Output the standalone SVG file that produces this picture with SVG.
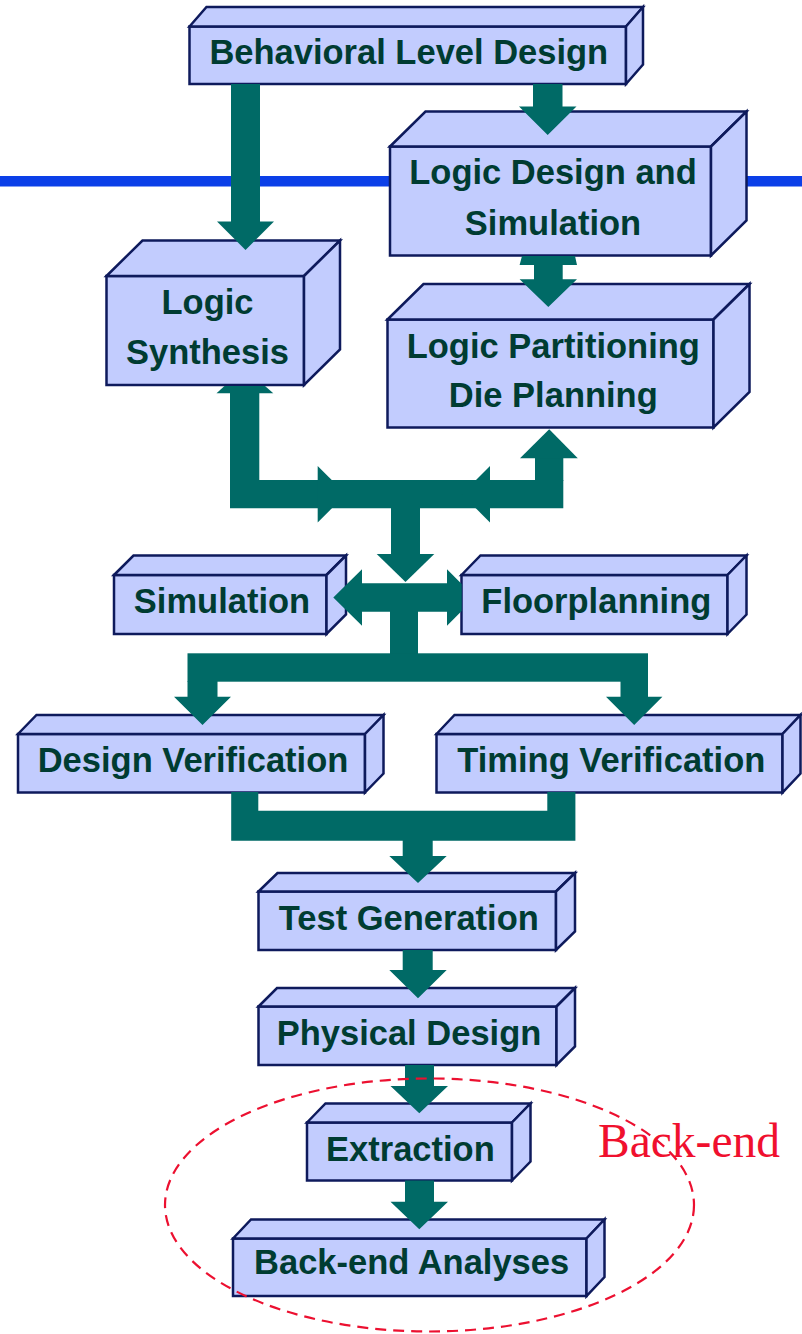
<svg xmlns="http://www.w3.org/2000/svg" width="802" height="1334" viewBox="0 0 802 1334">
  <defs>
    <style>
      .face { fill: #C2CCFE; stroke: #0E1A5C; stroke-width: 2.5; stroke-linejoin: miter; }
      .label { font-family: "Liberation Sans", Arial, sans-serif; font-weight: bold; font-size: 34.5px; fill: #003C32; text-anchor: middle; }
      .flow { fill: #006A66; stroke: none; }
      .region { fill: none; stroke: #EC1030; stroke-width: 2.2; stroke-dasharray: 11 7; }
      .region-label { font-family: "Liberation Serif", "Times New Roman", serif; font-size: 47.5px; fill: #F0102E; }
    </style>
  </defs>

  <rect width="802" height="1334" fill="#FFFFFF"/>

  <!-- front-end / back-end separator -->
  <rect id="separator" x="0" y="176" width="802" height="10.5" fill="#0B3FE8"/>

  <!-- 3D boxes: front face, top face, side face -->
  <g id="behavioral">
    <rect class="face" x="189.5" y="26.5" width="436.5" height="57.5"/>
    <polygon class="face" points="189.5,26.5 206.5,7 643,7 626,26.5"/>
    <polygon class="face" points="626,26.5 643,7 643,64.5 626,84"/>
    <text class="label" x="408.8" y="64">Behavioral Level Design</text>
  </g>

  <g id="logic-design">
    <rect class="face" x="390" y="146.5" width="321" height="109"/>
    <polygon class="face" points="390,146.5 425.5,111.5 746.5,111.5 711,146.5"/>
    <polygon class="face" points="711,146.5 746.5,111.5 746.5,220.5 711,255.5"/>
    <text class="label" x="553" y="184">Logic Design and</text>
    <text class="label" x="553" y="234.5">Simulation</text>
  </g>

  <g id="logic-synthesis">
    <rect class="face" x="106.5" y="276" width="197.5" height="109"/>
    <polygon class="face" points="106.5,276 142.5,240.5 340,240.5 304,276"/>
    <polygon class="face" points="304,276 340,240.5 340,349.5 304,385"/>
    <text class="label" x="207.5" y="314">Logic</text>
    <text class="label" x="207.5" y="364">Synthesis</text>
  </g>

  <g id="logic-partitioning">
    <rect class="face" x="387.5" y="319.5" width="326" height="108"/>
    <polygon class="face" points="387.5,319.5 423.5,284 749.5,284 713.5,319.5"/>
    <polygon class="face" points="713.5,319.5 749.5,284 749.5,392 713.5,427.5"/>
    <text class="label" x="553.3" y="358">Logic Partitioning</text>
    <text class="label" x="553.3" y="407.3">Die Planning</text>
  </g>

  <g id="simulation">
    <rect class="face" x="114" y="575" width="212.5" height="59"/>
    <polygon class="face" points="114,575 133.5,555.5 346,555.5 326.5,575"/>
    <polygon class="face" points="326.5,575 346,555.5 346,614.5 326.5,634"/>
    <text class="label" x="222" y="613.3">Simulation</text>
  </g>

  <g id="floorplanning">
    <rect class="face" x="461.5" y="575" width="266" height="59"/>
    <polygon class="face" points="461.5,575 480.5,555.5 746.5,555.5 727.5,575"/>
    <polygon class="face" points="727.5,575 746.5,555.5 746.5,614.5 727.5,634"/>
    <text class="label" x="596.3" y="613.3">Floorplanning</text>
  </g>

  <g id="design-verification">
    <rect class="face" x="18" y="734" width="347" height="58.5"/>
    <polygon class="face" points="18,734 36.5,715 383.5,715 365,734"/>
    <polygon class="face" points="365,734 383.5,715 383.5,773.5 365,792.5"/>
    <text class="label" x="193" y="771.6">Design Verification</text>
  </g>

  <g id="timing-verification">
    <rect class="face" x="436.5" y="734" width="346" height="58.5"/>
    <polygon class="face" points="436.5,734 454.5,715 800.5,715 782.5,734"/>
    <polygon class="face" points="782.5,734 800.5,715 800.5,773.5 782.5,792.5"/>
    <text class="label" x="611.3" y="771.6">Timing Verification</text>
  </g>

  <g id="test-generation">
    <rect class="face" x="258.5" y="891.5" width="297.5" height="58.5"/>
    <polygon class="face" points="258.5,891.5 277.5,873 575,873 556,891.5"/>
    <polygon class="face" points="556,891.5 575,873 575,931.5 556,950"/>
    <text class="label" x="408.8" y="930">Test Generation</text>
  </g>

  <g id="physical-design">
    <rect class="face" x="258.5" y="1006.5" width="298" height="58.5"/>
    <polygon class="face" points="258.5,1006.5 277,988 575,988 556.5,1006.5"/>
    <polygon class="face" points="556.5,1006.5 575,988 575,1046.5 556.5,1065"/>
    <text class="label" x="409" y="1044.6">Physical Design</text>
  </g>

  <g id="extraction">
    <rect class="face" x="307" y="1122.5" width="205" height="58"/>
    <polygon class="face" points="307,1122.5 325.5,1103.5 530.5,1103.5 512,1122.5"/>
    <polygon class="face" points="512,1122.5 530.5,1103.5 530.5,1161.5 512,1180.5"/>
    <text class="label" x="410.4" y="1160.6">Extraction</text>
  </g>

  <g id="backend-analyses">
    <rect class="face" x="233" y="1238.5" width="353.5" height="57.5"/>
    <polygon class="face" points="233,1238.5 251,1219.5 604.5,1219.5 586.5,1238.5"/>
    <polygon class="face" points="586.5,1238.5 604.5,1219.5 604.5,1277 586.5,1296"/>
    <text class="label" x="411.6" y="1274">Back-end Analyses</text>
  </g>

  <!-- block arrows -->
  <g id="connectors">
    <!-- behavioral -> synthesis -->
    <polygon class="flow" points="231,84 260,84 260,221.5 274,221.5 245.5,250 217,221.5 231,221.5"/>
    <!-- behavioral -> logic design -->
    <polygon class="flow" points="533,84 562.5,84 562.5,106.5 576.5,106.5 547.7,135 519,106.5 533,106.5"/>
    <!-- logic design <-> partitioning -->
    <polygon class="flow" points="522,256 575,256 577,265 562.7,265 562.7,279.3 577,279.3 548.3,307 519.6,279.3 534,279.3 534,265 519.6,265"/>

    <!-- upper junction: synthesis / partitioning / floorplan stage -->
    <polygon class="flow" points="224.5,386 265,386 273.3,393.3 216.5,393.3"/>
    <polygon class="flow" points="230,393 259.3,393 259.3,480 563.3,480 563.3,508.3 230,508.3"/>
    <rect class="flow" x="535" y="458" width="28.3" height="23"/>
    <polygon class="flow" points="520,458.3 549.2,429.3 577.8,458.3"/>
    <polygon class="flow" points="317.7,466 346,494.2 317.7,522.4"/>
    <polygon class="flow" points="490,466 461.7,494.2 490,522.4"/>
    <rect class="flow" x="391" y="508" width="29" height="46.2"/>
    <polygon class="flow" points="376.7,554 434.3,554 405.5,582"/>

    <!-- simulation <-> floorplanning -->
    <polygon class="flow" points="333.3,597.5 362,569.3 362,583.3 447,583.3 447,569.3 461.7,584 461.7,611 447,625.7 447,611.7 362,611.7 362,625.7"/>

    <!-- split to verification -->
    <rect class="flow" x="390" y="611" width="28" height="43"/>
    <rect class="flow" x="187.5" y="653.3" width="460.5" height="28.4"/>
    <polygon class="flow" points="187.5,681 217.5,681 217.5,696.7 231,696.7 202.5,725 174,696.7 187.5,696.7"/>
    <polygon class="flow" points="620.5,681 648,681 648,696.7 662.4,696.7 634.2,725 606,696.7 620.5,696.7"/>

    <!-- merge to test generation -->
    <polygon class="flow" points="231.2,792 258.3,792 258.3,810.7 547.3,810.7 547.3,792 575.4,792 575.4,840.7 231.2,840.7"/>
    <polygon class="flow" points="402.7,840 432.7,840 432.7,856 446.7,856 418,883 389.3,856 402.7,856"/>

    <!-- test generation -> physical design -->
    <polygon class="flow" points="402.7,950 432.7,950 432.7,970 446.7,970 418,998.3 389.3,970 402.7,970"/>
    <!-- physical design -> extraction -->
    <polygon class="flow" points="405,1065 434,1065 434,1086 448,1086 419.3,1113.3 390.5,1086 405,1086"/>
    <!-- extraction -> back-end analyses -->
    <polygon class="flow" points="405,1180.5 434,1180.5 434,1201.7 448,1201.7 419.3,1229.3 390.5,1201.7 405,1201.7"/>
  </g>

  <!-- back-end region -->
  <g id="backend-region">
    <ellipse class="region" cx="429.5" cy="1205" rx="264.5" ry="126.5"/>
    <text class="region-label" x="598" y="1156.7">Back-end</text>
  </g>
</svg>
